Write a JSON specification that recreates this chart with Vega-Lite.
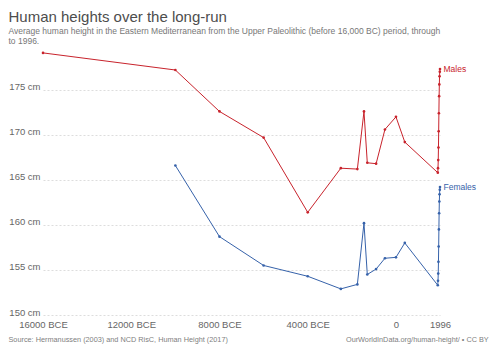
{
  "$schema": "https://vega.github.io/schema/vega-lite/v6.json",
  "width": 397,
  "height": 263,
  "autosize": {"type": "none"},
  "padding": {"top": 52, "left": 43, "right": 60, "bottom": 38},
  "config": {
    "font": "Liberation Sans",
    "view": {"stroke": null}
  },
  "title": {
    "text": "Human heights over the long-run",
    "subtitle": ["Average human height in the Eastern Mediterranean from the Upper Paleolithic (before 16,000 BC) period, through", "to 1996."],
    "anchor": "start",
    "frame": "bounds",
    "fontSize": 15,
    "fontWeight": "normal",
    "color": "#4d4d4d",
    "subtitleFontSize": 8.5,
    "subtitleColor": "#777777",
    "subtitleLineHeight": 10,
    "subtitlePadding": 2,
    "offset": 5
  },
  "data": {
    "values": [
      {"series": "Males", "year": -16000, "height": 179.1},
      {"series": "Males", "year": -10000, "height": 177.2},
      {"series": "Males", "year": -8000, "height": 172.6},
      {"series": "Males", "year": -6000, "height": 169.7},
      {"series": "Males", "year": -4000, "height": 161.4},
      {"series": "Males", "year": -2500, "height": 166.3},
      {"series": "Males", "year": -1750, "height": 166.2},
      {"series": "Males", "year": -1450, "height": 172.6},
      {"series": "Males", "year": -1300, "height": 166.9},
      {"series": "Males", "year": -900, "height": 166.8},
      {"series": "Males", "year": -500, "height": 170.6},
      {"series": "Males", "year": 0, "height": 172.0},
      {"series": "Males", "year": 400, "height": 169.2},
      {"series": "Males", "year": 1896, "height": 165.8},
      {"series": "Males", "year": 1906, "height": 166.3},
      {"series": "Males", "year": 1916, "height": 167.2},
      {"series": "Males", "year": 1926, "height": 168.6},
      {"series": "Males", "year": 1936, "height": 170.4},
      {"series": "Males", "year": 1946, "height": 172.4},
      {"series": "Males", "year": 1956, "height": 174.3},
      {"series": "Males", "year": 1966, "height": 175.6},
      {"series": "Males", "year": 1976, "height": 176.5},
      {"series": "Males", "year": 1986, "height": 177.0},
      {"series": "Males", "year": 1996, "height": 177.3},
      {"series": "Females", "year": -10000, "height": 166.6},
      {"series": "Females", "year": -8000, "height": 158.7},
      {"series": "Females", "year": -6000, "height": 155.5},
      {"series": "Females", "year": -4000, "height": 154.3},
      {"series": "Females", "year": -2500, "height": 152.9},
      {"series": "Females", "year": -1750, "height": 153.4},
      {"series": "Females", "year": -1450, "height": 160.2},
      {"series": "Females", "year": -1300, "height": 154.5},
      {"series": "Females", "year": -900, "height": 155.1},
      {"series": "Females", "year": -500, "height": 156.3},
      {"series": "Females", "year": 0, "height": 156.4},
      {"series": "Females", "year": 400, "height": 158.0},
      {"series": "Females", "year": 1896, "height": 153.3},
      {"series": "Females", "year": 1906, "height": 153.8},
      {"series": "Females", "year": 1916, "height": 154.6},
      {"series": "Females", "year": 1926, "height": 155.9},
      {"series": "Females", "year": 1936, "height": 157.6},
      {"series": "Females", "year": 1946, "height": 159.5},
      {"series": "Females", "year": 1956, "height": 161.3},
      {"series": "Females", "year": 1966, "height": 162.6},
      {"series": "Females", "year": 1976, "height": 163.4},
      {"series": "Females", "year": 1986, "height": 163.9},
      {"series": "Females", "year": 1996, "height": 164.2}
    ]
  },
  "encoding": {
    "x": {
      "field": "year",
      "type": "quantitative",
      "scale": {"domain": [-16000, 1996], "nice": false, "zero": false},
      "axis": {
        "title": null,
        "values": [-16000, -12000, -8000, -4000, 0, 1996],
        "labelExpr": "datum.value < 0 ? format(-datum.value, 'd') + ' BCE' : format(datum.value, 'd')",
        "grid": false,
        "ticks": false,
        "tickSize": 0,
        "domain": false,
        "labelFlush": false,
        "labelOverlap": false,
        "labelPadding": 4,
        "labelFontSize": 9.5,
        "labelColor": "#666666"
      }
    },
    "y": {
      "field": "height",
      "type": "quantitative",
      "scale": {"domain": [150, 179.2], "nice": false, "zero": false},
      "axis": {
        "title": null,
        "values": [150, 155, 160, 165, 170, 175],
        "labelExpr": "datum.value + ' cm'",
        "labelBaseline": "alphabetic",
        "labelAlign": "right",
        "labelPadding": 3,
        "grid": true,
        "gridDash": [2, 2],
        "gridColor": "#dddddd",
        "ticks": false,
        "tickSize": 0,
        "domain": false,
        "labelOverlap": false,
        "labelFontSize": 9.5,
        "labelColor": "#666666"
      }
    }
  },
  "layer": [
    {
      "mark": {"type": "line", "strokeWidth": 1},
      "encoding": {"color": {"field": "series", "type": "nominal", "scale": {"domain": ["Males", "Females"], "range": ["#c8232c", "#3662aa"]}, "legend": null}}
    },
    {
      "mark": {"type": "point", "filled": true, "size": 7, "opacity": 1},
      "encoding": {"color": {"field": "series", "type": "nominal", "legend": null}}
    },
    {
      "transform": [{"filter": "datum.year == 1996"}],
      "mark": {"type": "text", "align": "left", "baseline": "middle", "dx": 3.5, "fontSize": 8.5},
      "encoding": {"text": {"field": "series"}, "color": {"field": "series", "type": "nominal", "legend": null}}
    },
    {
      "data": {"values": [{"t": "Source: Hermanussen (2003) and NCD RisC, Human Height (2017)", "year": -16000, "height": 150}]},
      "mark": {"type": "text", "align": "left", "baseline": "alphabetic", "dx": -34.5, "dy": 27.3, "fontSize": 7.3, "color": "#808080"},
      "encoding": {"text": {"field": "t"}}
    },
    {
      "data": {"values": [{"t": "OurWorldInData.org/human-height/ • CC BY", "year": 1996, "height": 150}]},
      "mark": {"type": "text", "align": "right", "baseline": "alphabetic", "dx": 48.7, "dy": 27.3, "fontSize": 7.3, "color": "#808080"},
      "encoding": {"text": {"field": "t"}}
    }
  ]
}
